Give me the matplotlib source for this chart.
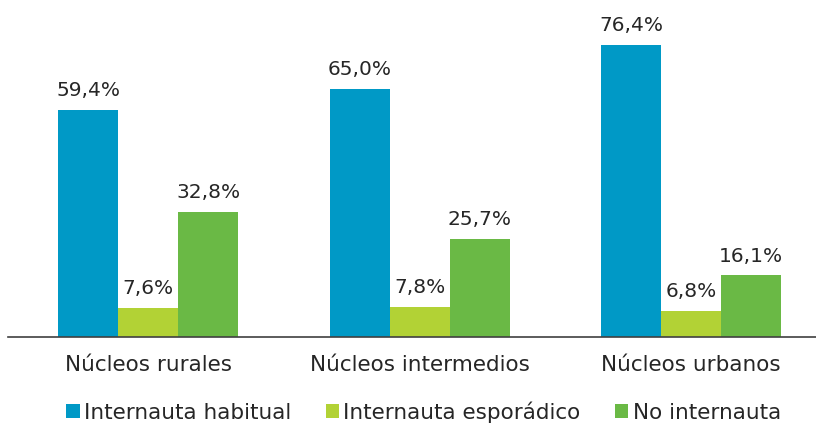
import matplotlib
matplotlib.use('Agg')
import matplotlib.pyplot as plt
import numpy as np

categories = ['Núcleos rurales', 'Núcleos intermedios', 'Núcleos urbanos']
series_names = ['Internauta habitual', 'Internauta esporádico', 'No internauta']
habitual = [59.4, 65.0, 76.4]
esporadico = [7.6, 7.8, 6.8]
no_internauta = [32.8, 25.7, 16.1]
colors = ['#0099C6', '#B2D235', '#6AB945']

plt.rcParams['font.family'] = ['DejaVu Sans']
text_color = '#262626'

fig = plt.figure(figsize=(8.16, 4.23), dpi=100)
ax = fig.add_axes([0.0098, 0.2033, 0.9902, 0.7967])

x = np.arange(len(categories))
width = 0.221
for i, (vals, name, col) in enumerate(zip([habitual, esporadico, no_internauta], series_names, colors)):
    bars = ax.bar(x + (i - 1) * width, vals, width, color=col, label=name)
    labels = [f'{v:.1f}%'.replace('.', ',') for v in vals]
    ax.bar_label(bars, labels=labels, padding=7, fontsize=14.5, color=text_color)

ax.set_xlim(-0.516, 2.46)
ax.set_ylim(0, 88.2)
ax.set_yticks([])
ax.set_xticks(x)
ax.set_xticklabels(categories, fontsize=15.5, color=text_color)
ax.tick_params(axis='x', length=0, pad=13)
for s in ['top', 'right', 'left']:
    ax.spines[s].set_visible(False)
ax.spines['bottom'].set_color('#404040')
ax.spines['bottom'].set_linewidth(1.2)

fig.legend(loc='lower center', bbox_to_anchor=(0.519, -0.045), ncol=3, frameon=False,
           fontsize=15.5, handlelength=0.62, handleheight=0.62, handletextpad=0.2,
           columnspacing=1.6, labelcolor=text_color)

fig.savefig('out.png', dpi=100)
